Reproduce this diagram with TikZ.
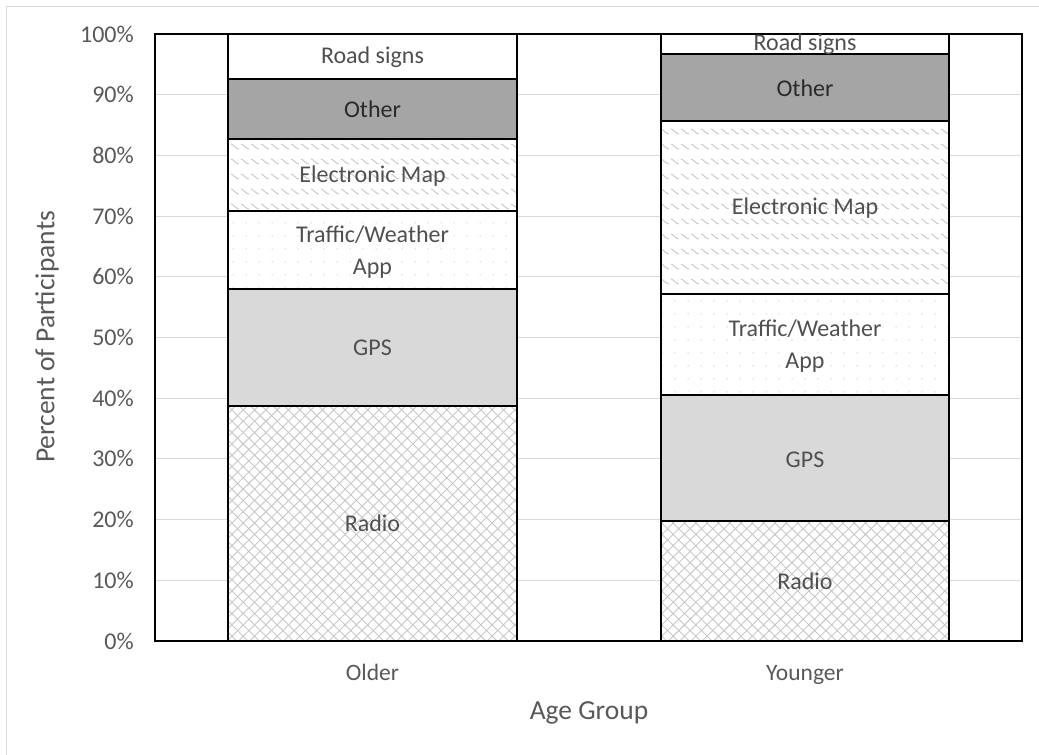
\documentclass[tikz,border=0pt]{standalone}
\usepackage{fontspec}
\setmainfont{Carlito}
\usetikzlibrary{patterns,patterns.meta}
\definecolor{txt}{HTML}{595959}
\definecolor{lbl}{HTML}{505050}
\definecolor{lbldark}{HTML}{2A2A2A}
\definecolor{gridc}{HTML}{D9D9D9}
\definecolor{gpsc}{HTML}{D9D9D9}
\definecolor{othc}{HTML}{A5A5A5}
\definecolor{patc}{HTML}{C8C8C8}
\pgfdeclarepatternformonly{wavy}{\pgfqpoint{-1pt}{-1pt}}{\pgfqpoint{11pt}{16pt}}{\pgfqpoint{10pt}{15pt}}{%
  \pgfsetlinewidth{0.9pt}%
  \pgfpathmoveto{\pgfqpoint{1pt}{11pt}}%
  \pgfpathcurveto{\pgfqpoint{3pt}{11pt}}{\pgfqpoint{6pt}{6pt}}{\pgfqpoint{9pt}{6pt}}%
  \pgfusepath{stroke}%
}
\tikzset{
  seg/.style={draw=black, line width=1.3pt},
  ticklab/.style={text=txt, anchor=east, font=\fontsize{24}{28}\selectfont, inner sep=0pt},
  catlab/.style={text=txt, anchor=base, font=\fontsize{23.5}{28}\selectfont, inner sep=0pt},
  axtitle/.style={text=txt, font=\fontsize{27.5}{32}\selectfont, inner sep=0pt},
  barlab/.style={text=lbl, font=\fontsize{24}{32}\selectfont, inner sep=0pt, align=center},
  darklab/.style={barlab, text=lbldark},
  gridline/.style={draw=gridc, line width=1pt},
  radiofill/.style={pattern={Lines[angle=45,distance=8pt,line width=0.9pt]}, pattern color=patc},
  radiofillb/.style={pattern={Lines[angle=-45,distance=8pt,line width=0.9pt]}, pattern color=patc},
  dotfill/.style={pattern={Dots[distance=13pt,radius=0.7pt]}, pattern color=patc},
  wavefill/.style={pattern=wavy, pattern color=patc},
}
\begin{document}
\begin{tikzpicture}[x=1pt,y=-1pt]
\useasboundingbox (0,0) rectangle (1039,755);
\fill[white] (0,0) rectangle (1039,755);
% outer chart frame
\draw[gridc, line width=1.5pt] (6.5,755) -- (6.5,6.5) -- (1039,6.5);
% gridlines
\foreach \p in {1,...,9} {
  \draw[gridline] (155,{641-60.7*\p}) -- (1022,{641-60.7*\p});
}
% tick labels
\foreach \p/\t in {0/0\%,1/10\%,2/20\%,3/30\%,4/40\%,5/50\%,6/60\%,7/70\%,8/80\%,9/90\%,10/100\%} {
  \node[ticklab] (tick\p) at (134,{641-60.7*\p}) {\t};
}
% ---------- Older bar ----------
\fill[white] (228,406) rectangle (517,641);
\fill[radiofill] (228,406) rectangle (517,641);
\fill[radiofillb] (228,406) rectangle (517,641);
\draw[seg] (228,406) rectangle (517,641);
\filldraw[seg, fill=gpsc] (228,289) rectangle (517,406);
\fill[white] (228,211) rectangle (517,289);
\fill[dotfill] (228,211) rectangle (517,289);
\draw[seg] (228,211) rectangle (517,289);
\fill[white] (228,139) rectangle (517,211);
\fill[wavefill] (228,139) rectangle (517,211);
\draw[seg] (228,139) rectangle (517,211);
\filldraw[seg, fill=othc] (228,79) rectangle (517,139);
\filldraw[seg, fill=white] (228,34) rectangle (517,79);
% ---------- Younger bar ----------
\fill[white] (661,521) rectangle (949,641);
\fill[radiofill] (661,521) rectangle (949,641);
\fill[radiofillb] (661,521) rectangle (949,641);
\draw[seg] (661,521) rectangle (949,641);
\filldraw[seg, fill=gpsc] (661,395) rectangle (949,521);
\fill[white] (661,294) rectangle (949,395);
\fill[dotfill] (661,294) rectangle (949,395);
\draw[seg] (661,294) rectangle (949,395);
\fill[white] (661,121) rectangle (949,294);
\fill[wavefill] (661,121) rectangle (949,294);
\draw[seg] (661,121) rectangle (949,294);
\filldraw[seg, fill=othc] (661,54) rectangle (949,121);
\filldraw[seg, fill=white] (661,34) rectangle (949,54);
% plot frame
\draw[black, line width=1.5pt] (155,34) rectangle (1022,641);
% bar labels
\node[barlab] (o-road) at (372.5,57) {Road signs};
\node[darklab] (o-other) at (372.5,109) {Other};
\node[barlab] (o-emap) at (372.5,176) {Electronic Map};
\node[barlab] (o-traffic) at (372.5,252) {Traffic/Weather\\App};
\node[barlab] (o-gps) at (372.5,348) {GPS};
\node[barlab] (o-radio) at (372.5,523) {Radio};
\node[barlab] (y-road) at (805,44) {Road signs};
\node[darklab] (y-other) at (805,88) {Other};
\node[barlab] (y-emap) at (805,208) {Electronic Map};
\node[barlab] (y-traffic) at (805,346) {Traffic/Weather\\App};
\node[barlab] (y-gps) at (805,460) {GPS};
\node[barlab] (y-radio) at (805,581) {Radio};
% category labels
\node[catlab] (cat-old) at (372.5,680) {Older};
\node[catlab] (cat-young) at (805,680) {Younger};
% axis titles
\node[axtitle, anchor=base] (xtitle) at (589,719) {Age Group};
\node[axtitle, rotate=90] (ytitle) at (47,337) {Percent of Participants};
\end{tikzpicture}
\end{document}
